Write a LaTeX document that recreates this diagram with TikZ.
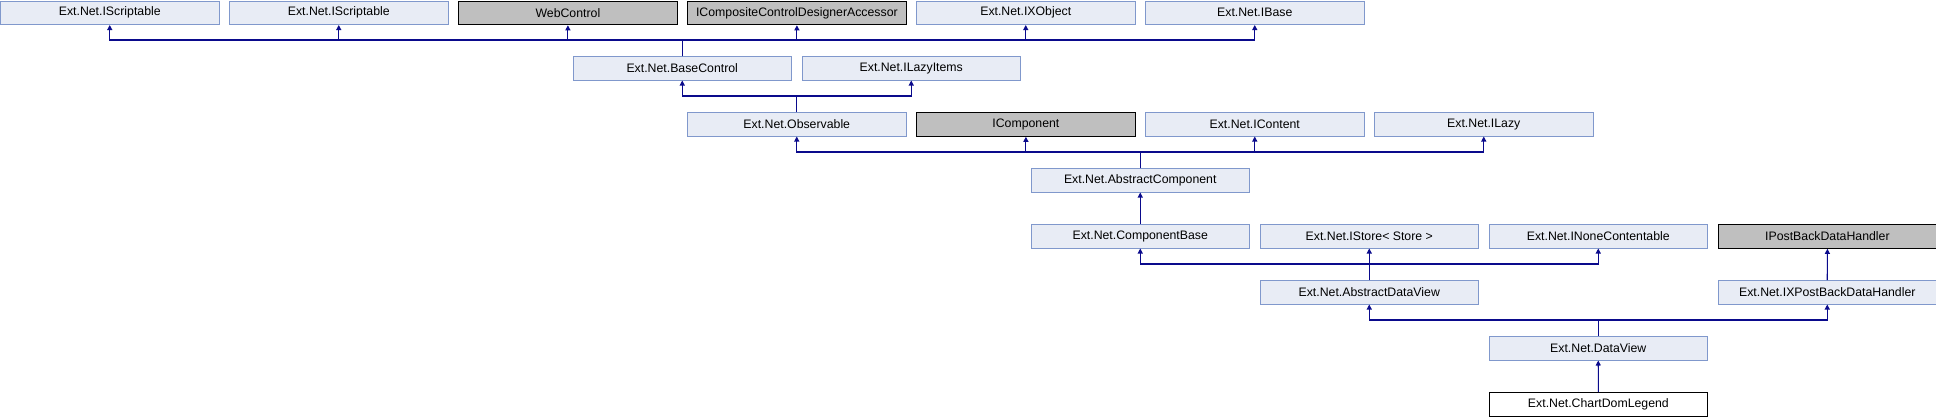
\documentclass[tikz,border=0pt]{standalone}
\usepackage{fontspec}
\setmainfont{Liberation Sans}
\usetikzlibrary{arrows.meta}
\definecolor{boxfill}{RGB}{232,236,245}
\definecolor{boxline}{RGB}{128,152,204}
\definecolor{grayfill}{RGB}{191,191,191}
\definecolor{linkc}{RGB}{10,10,140}
\tikzset{
  cls/.style={anchor=north west, minimum width=218.5pt, minimum height=23.5pt, inner sep=0pt,
    font=\fontsize{12.3pt}{14pt}\selectfont, line width=1pt},
  doc/.style={cls, draw=boxline, fill=boxfill},
  ext/.style={cls, draw=black, fill=grayfill, line width=1.3pt},
  cur/.style={cls, draw=black, fill=white, line width=1.3pt},
  arr/.style={draw=linkc, line width=1.1pt, -{Triangle[length=5pt,width=5pt]}}
}
\newcommand{\colx}[1]{229*#1}
\begin{document}
\begin{tikzpicture}[x=1pt,y=-1pt]
\useasboundingbox (0,0) rectangle (1936,416);
% row 0
\node[doc] (s1) at ({\colx{0}},0.5) {Ext.Net.IScriptable};
\node[doc] (s2) at ({\colx{1}},0.5) {Ext.Net.IScriptable};
\node[ext] (wc) at ({\colx{2}},0.5) {WebControl};
\node[ext] (icc) at ({\colx{3}},0.5) {ICompositeControlDesignerAccessor};
\node[doc] (ixo) at ({\colx{4}},0.5) {Ext.Net.IXObject};
\node[doc] (ib) at ({\colx{5}},0.5) {Ext.Net.IBase};
% row 1
\node[doc] (bc) at ({\colx{2.5}},56) {Ext.Net.BaseControl};
\node[doc] (ili) at ({\colx{3.5}},56) {Ext.Net.ILazyItems};
% row 2
\node[doc] (obs) at ({\colx{3}},112) {Ext.Net.Observable};
\node[ext] (icp) at ({\colx{4}},112) {IComponent};
\node[doc] (ico) at ({\colx{5}},112) {Ext.Net.IContent};
\node[doc] (ilz) at ({\colx{6}},112) {Ext.Net.ILazy};
% row 3
\node[doc] (ac) at ({\colx{4.5}},168) {Ext.Net.AbstractComponent};
% row 4
\node[doc] (cb) at ({\colx{4.5}},224) {Ext.Net.ComponentBase};
\node[doc] (ist) at ({\colx{5.5}},224) {Ext.Net.IStore< Store >};
\node[doc] (inc) at ({\colx{6.5}},224) {Ext.Net.INoneContentable};
\node[ext] (ipb) at ({\colx{7.5}},224) {IPostBackDataHandler};
% row 5
\node[doc] (adv) at ({\colx{5.5}},280) {Ext.Net.AbstractDataView};
\node[doc] (ixp) at ({\colx{7.5}},280) {Ext.Net.IXPostBackDataHandler};
% row 6
\node[doc] (dv) at ({\colx{6.5}},336) {Ext.Net.DataView};
% row 7
\node[cur] (cdl) at ({\colx{6.5}},392) {Ext.Net.ChartDomLegend};
% connectors
\foreach \p in {s1,s2,wc,icc,ixo,ib}
  \draw[arr] (bc.north) -- ++(0,-16) -| (\p.south);
\foreach \p in {bc,ili}
  \draw[arr] (obs.north) -- ++(0,-16) -| (\p.south);
\foreach \p in {obs,icp,ico,ilz}
  \draw[arr] (ac.north) -- ++(0,-16) -| (\p.south);
\draw[arr] (cb.north) -- (ac.south);
\foreach \p in {cb,ist,inc}
  \draw[arr] (adv.north) -- ++(0,-16) -| (\p.south);
\draw[arr] (ixp.north) -- (ipb.south);
\foreach \p in {adv,ixp}
  \draw[arr] (dv.north) -- ++(0,-16) -| (\p.south);
\draw[arr] (cdl.north) -- (dv.south);
\end{tikzpicture}
\end{document}
